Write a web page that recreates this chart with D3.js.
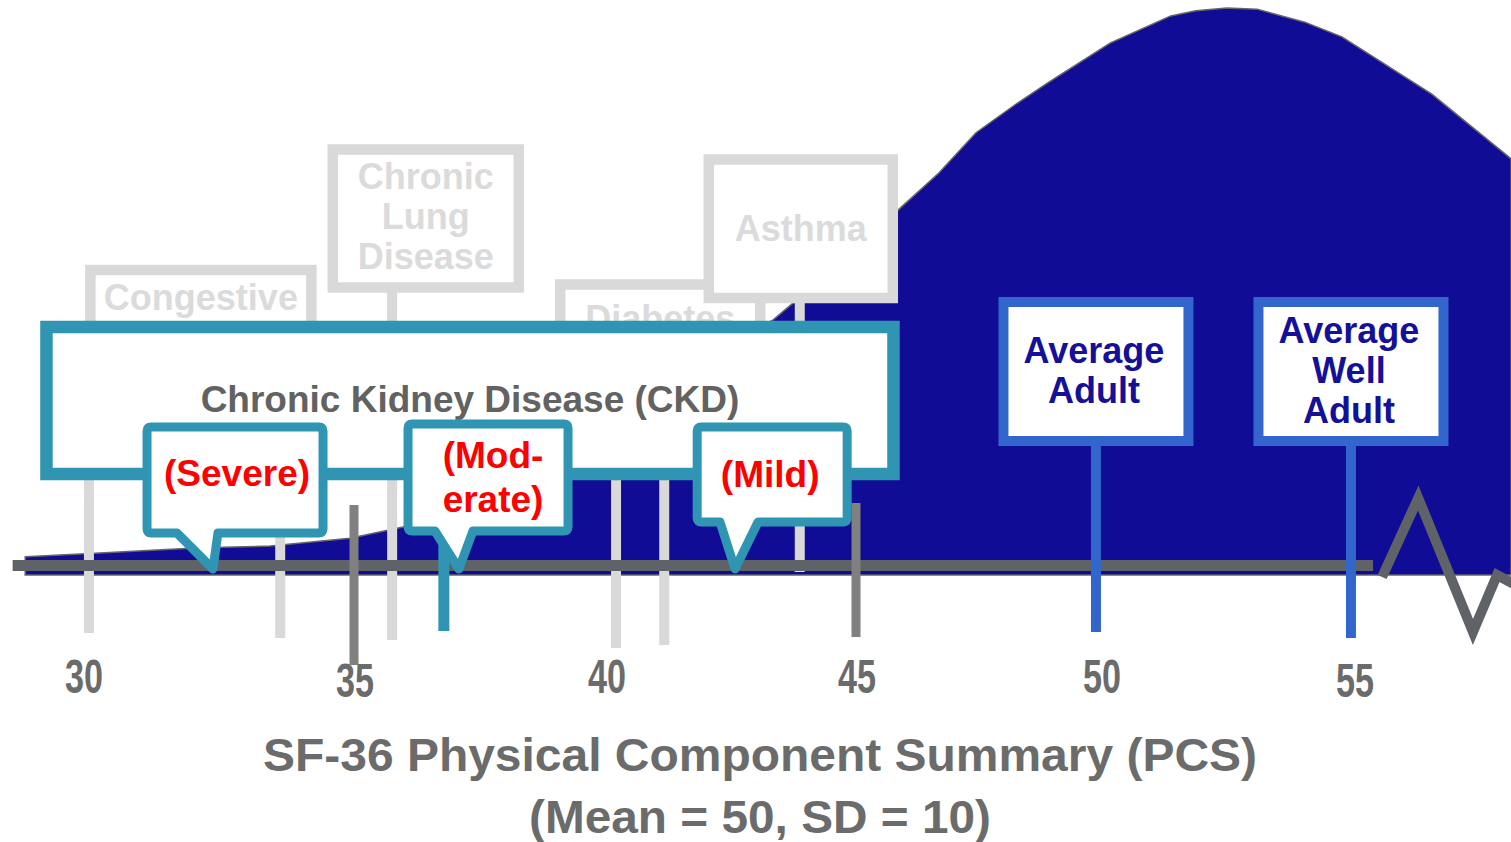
<!DOCTYPE html>
<html>
<head>
<meta charset="utf-8">
<script src="https://cdn.jsdelivr.net/npm/d3@7/dist/d3.min.js"></script>
<style>
  html, body { margin: 0; padding: 0; background: #fff; overflow: hidden; }
  svg text { font-family: "Liberation Sans", Arial, sans-serif; font-weight: bold; }
  svg text.narrow { font-family: "Liberation Sans Narrow", "Liberation Sans", Arial, sans-serif; }
</style>
</head>
<body>
<div id="chart"></div>
<script>
// Outline of the PCS distribution: score and relative height (peak = 100)
var curvePcs    = [28.45, 29.94, 31.93, 33.33, 34.92, 36.00, 36.91, 37.91, 39.10, 40.30,
                   41.49, 42.69, 43.35, 43.75, 44.88, 45.88, 46.65, 47.39, 48.21, 48.82,
                   50.06, 51.27, 51.77, 52.39, 52.99, 53.94, 54.68, 56.47, 58.05];
var curveHeight = [3.2, 3.9, 4.8, 5.1, 6.5, 8.5, 12.3, 17.1, 22.9, 29.1,
                   35.6, 41.8, 45.0, 48.0, 56.4, 64.7, 70.9, 78.0, 83.2, 86.8,
                   93.8, 98.6, 99.5, 100, 99.8, 97.5, 94.9, 84.8, 73.4];

// Axis
var tickValues = [30, 35, 40, 45, 50, 55];
var tickLabels = ["30", "35", "40", "45", "50", "55"];
var markedTicks = [35, 45];
var axisTitle = ["SF-36 Physical Component Summary (PCS)", "(Mean = 50, SD = 10)"];

// Other chronic conditions (greyed out)
var otherLabels  = [["Congestive"], ["Chronic", "Lung", "Disease"], ["Diabetes"], ["Asthma"]];
var otherCenters = [31.95, 36.43, 41.10, 43.90];
var otherPins    = [29.72, 33.53, 35.76, 40.22, 41.18, 43.88];

// CKD and its stages
var ckdLabel   = "Chronic Kidney Disease (CKD)";
var ckdCenter  = 37.31;
var ckdPin     = 36.79;
var stageLabels  = [["(Severe)"], ["(Mod-", "erate)"], ["(Mild)"]];
var stageCenters = [32.63, 37.67, 43.33];
var stageScores  = [32.19, 37.09, 42.59];

// Reference groups
var normLabels = [["Average", "Adult"], ["Average", "Well", "Adult"]];
var normScores = [49.78, 54.86];

// ---- layout ----
var width = 1511, height = 842;
var baseY = 575, axisY = 565.5;
var axisExtent = [28.2, 55.3];
var breakPcs = [55.48, 56.20, 57.29, 57.77, 58.23];
var breakDy  = [11.5, -67.5, 66.5, 9.5, 22];
var tickNudge = [-19, 1, 2, 1, -5, -3];
var tickY = [693, 697, 693, 693, 693, 697];

var otherBoxes = [
  {w: 221, top: 270,   bottom: 400,   textY: [310]},
  {w: 186, top: 149.5, bottom: 287.5, textY: [189, 229, 269]},
  {w: 200, top: 284.5, bottom: 400,   textY: [331]},
  {w: 184, top: 159.5, bottom: 298,   textY: [241]}
];
var otherPinY = [[474, 633], [474, 638], [287, 640], [474, 648], [474, 645], [298, 572]];
var markedTickY = [[505, 665], [503, 637]];
var ckdBox = {w: 847, top: 327, bottom: 474, textY: 412};
var ckdPinY = [535, 631];
var bubbles = [
  {w: 176, top: 427, bottom: 533, tail: [-36, 5],  textY: [486], dx: 2},
  {w: 160, top: 424, bottom: 531, tail: [-24, 14], textY: [468, 512], dx: 5},
  {w: 150, top: 427, bottom: 522, tail: [-15, 23], textY: [487], dx: -2}
];
var tipY = 569;
var normBox = {w: 185, top: 302, bottom: 441, pinBottom: [632, 638], textY: [[363, 403], [343, 383, 423]]};

var colors = {
  curve: "#110c96", outline: "#666", axis: "#5f6267", tick: "#808080",
  faded: "#d9d9d9", fadedText: "#dbdbdb", teal: "#3095b3", red: "#ff0000",
  blue: "#3366cc", navy: "#14109a", label: "#6b6b6b", ckdText: "#626262"
};

var svg = d3.select("#chart").append("svg")
  .attr("width", width)
  .attr("height", height);

var x = d3.scaleLinear().domain([35, 45]).range([354, 856]);
var y = d3.scaleLinear().domain([0, 100]).range([baseY, 8]);

// distribution
var curve = curvePcs.map(function (p, i) { return [p, curveHeight[i]]; });
var area = d3.area()
  .x(function (d) { return x(d[0]); })
  .y0(baseY)
  .y1(function (d) { return y(d[1]); });

svg.append("path")
  .datum(curve)
  .attr("d", area)
  .attr("fill", colors.curve)
  .attr("stroke", colors.outline)
  .attr("stroke-width", 1.5);

function addLines(g, lines, cx, ys, size, fill) {
  lines.forEach(function (t, i) {
    g.append("text")
      .attr("x", cx)
      .attr("y", ys[i])
      .attr("text-anchor", "middle")
      .attr("font-size", size)
      .attr("fill", fill)
      .text(t);
  });
}

// greyed-out condition signs
var others = svg.append("g");
otherLabels.forEach(function (lines, i) {
  var b = otherBoxes[i], cx = x(otherCenters[i]);
  others.append("rect")
    .attr("x", cx - b.w / 2).attr("y", b.top)
    .attr("width", b.w).attr("height", b.bottom - b.top)
    .attr("fill", "#fff")
    .attr("stroke", colors.faded)
    .attr("stroke-width", 10.5);
  addLines(others, lines, cx, b.textY, 36, colors.fadedText);
});

others.selectAll("line.pin")
  .data(otherPins)
  .join("line")
  .attr("class", "pin")
  .attr("x1", function (d) { return x(d); })
  .attr("x2", function (d) { return x(d); })
  .attr("y1", function (d, i) { return otherPinY[i][0]; })
  .attr("y2", function (d, i) { return otherPinY[i][1]; })
  .attr("stroke", colors.faded)
  .attr("stroke-width", 10);

// axis bar
svg.append("line")
  .attr("x1", x(axisExtent[0])).attr("x2", x(axisExtent[1]))
  .attr("y1", axisY).attr("y2", axisY)
  .attr("stroke", colors.axis)
  .attr("stroke-width", 11);

svg.selectAll("line.mark")
  .data(markedTicks)
  .join("line")
  .attr("class", "mark")
  .attr("x1", function (d) { return x(d); })
  .attr("x2", function (d) { return x(d); })
  .attr("y1", function (d, i) { return markedTickY[i][0]; })
  .attr("y2", function (d, i) { return markedTickY[i][1]; })
  .attr("stroke", colors.tick)
  .attr("stroke-width", 9);

// axis break
svg.append("path")
  .datum(breakPcs.map(function (p, i) { return [x(p), axisY + breakDy[i]]; }))
  .attr("d", d3.line())
  .attr("fill", "none")
  .attr("stroke", colors.axis)
  .attr("stroke-width", 10);

// CKD pin and box
svg.append("line")
  .attr("x1", x(ckdPin)).attr("x2", x(ckdPin))
  .attr("y1", ckdPinY[0]).attr("y2", ckdPinY[1])
  .attr("stroke", colors.teal)
  .attr("stroke-width", 11);

var ckdX = x(ckdCenter);
svg.append("rect")
  .attr("x", ckdX - ckdBox.w / 2).attr("y", ckdBox.top)
  .attr("width", ckdBox.w).attr("height", ckdBox.bottom - ckdBox.top)
  .attr("fill", "#fff")
  .attr("stroke", colors.teal)
  .attr("stroke-width", 12.5);
addLines(svg, [ckdLabel], ckdX, [ckdBox.textY], 37, colors.ckdText);

// stage speech bubbles
function bubblePath(x0, x1, y0, y1, tl, tr, tx, ty, r) {
  var p = d3.path();
  p.moveTo(x0 + r, y0);
  p.lineTo(x1 - r, y0);
  p.quadraticCurveTo(x1, y0, x1, y0 + r);
  p.lineTo(x1, y1 - r);
  p.quadraticCurveTo(x1, y1, x1 - r, y1);
  p.lineTo(tr, y1);
  p.lineTo(tx, ty);
  p.lineTo(tl, y1);
  p.lineTo(x0 + r, y1);
  p.quadraticCurveTo(x0, y1, x0, y1 - r);
  p.lineTo(x0, y0 + r);
  p.quadraticCurveTo(x0, y0, x0 + r, y0);
  p.closePath();
  return p.toString();
}

stageLabels.forEach(function (lines, i) {
  var b = bubbles[i], cx = x(stageCenters[i]), tip = x(stageScores[i]);
  svg.append("path")
    .attr("d", bubblePath(cx - b.w / 2, cx + b.w / 2, b.top, b.bottom,
                          tip + b.tail[0], tip + b.tail[1], tip, tipY, 4))
    .attr("fill", "#fff")
    .attr("stroke", colors.teal)
    .attr("stroke-width", 9)
    .attr("stroke-linejoin", "round");
  addLines(svg, lines, cx + b.dx, b.textY, 37, colors.red);
});

// reference group signs
normLabels.forEach(function (lines, i) {
  var cx = x(normScores[i]);
  svg.append("line")
    .attr("x1", cx).attr("x2", cx)
    .attr("y1", normBox.bottom).attr("y2", normBox.pinBottom[i])
    .attr("stroke", colors.blue)
    .attr("stroke-width", 10);
  svg.append("rect")
    .attr("x", cx - normBox.w / 2).attr("y", normBox.top)
    .attr("width", normBox.w).attr("height", normBox.bottom - normBox.top)
    .attr("fill", "#fff")
    .attr("stroke", colors.blue)
    .attr("stroke-width", 10);
  addLines(svg, lines, cx - 2, normBox.textY[i], 36, colors.navy);
});

// tick labels and title
svg.selectAll("text.tick")
  .data(tickValues)
  .join("text")
  .attr("class", "tick")
  .attr("x", function (d, i) { return x(d) + tickNudge[i]; })
  .attr("y", function (d, i) { return tickY[i]; })
  .attr("text-anchor", "middle")
  .attr("font-size", 49)
  .attr("fill", colors.label)
  .attr("textLength", 38)
  .attr("lengthAdjust", "spacingAndGlyphs")
  .text(function (d, i) { return tickLabels[i]; });

var titleLen = [994, 462], titleY = [771, 833];
axisTitle.forEach(function (t, i) {
  svg.append("text")
    .attr("class", "narrow")
    .attr("x", 760).attr("y", titleY[i])
    .attr("text-anchor", "middle")
    .attr("font-size", 46)
    .attr("fill", colors.label)
    .attr("textLength", titleLen[i])
    .attr("lengthAdjust", "spacingAndGlyphs")
    .text(t);
});
</script>
</body>
</html>
